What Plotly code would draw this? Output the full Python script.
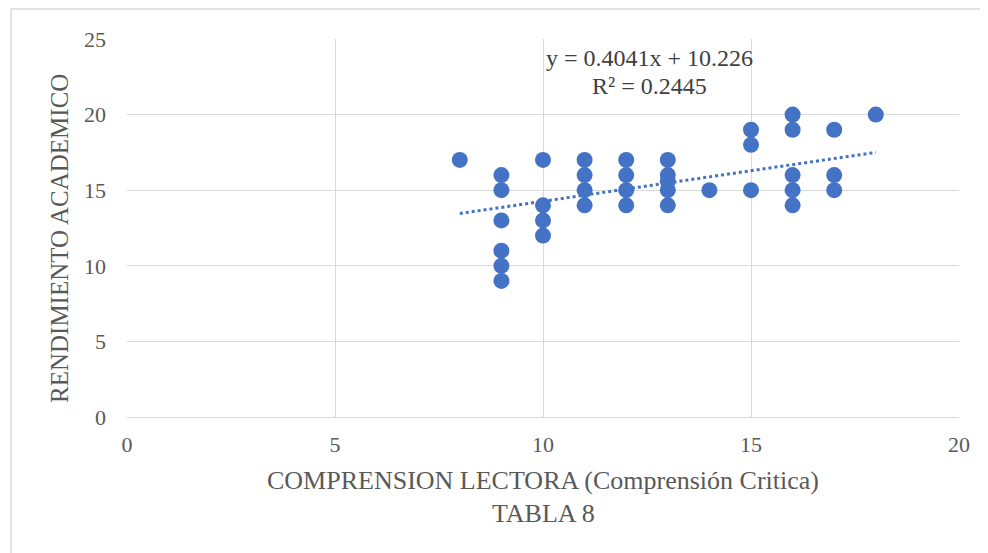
import plotly.graph_objects as go

comprension = [8, 9, 9, 9, 9, 9, 9, 10, 10, 10, 10, 11, 11, 11, 11, 12, 12, 12, 12,
               13, 13, 13, 13, 13, 14, 15, 15, 15, 16, 16, 16, 16, 16, 17, 17, 17, 18]
rendimiento = [17, 16, 15, 13, 11, 10, 9, 17, 14, 13, 12, 17, 16, 15, 14, 17, 16, 15, 14,
               17, 16, 15.6, 15, 14, 15, 19, 18, 15, 20, 19, 16, 15, 14, 19, 16, 15, 20]

slope = 0.4041
intercept = 10.226
trend_x = [8, 18]
trend_y = [slope * v + intercept for v in trend_x]

blue = "#4472C4"
font = "Times New Roman, Liberation Serif, serif"
grey = "#595959"
tickfont = dict(family=font, size=22, color=grey)

L, T, PW, PH = 119, 31, 832, 378
OX, OY = 126, 38  # reference pixel of plot-area origin (top-left)


def px_x(p):
    return (p - OX) / PW


def px_y(p):
    return 1 - (p - OY) / PH


fig = go.Figure()
fig.add_trace(go.Scatter(x=trend_x, y=trend_y, mode="lines",
                         line=dict(color=blue, width=3, dash="dot"), hoverinfo="skip"))
fig.add_trace(go.Scatter(x=comprension, y=rendimiento, mode="markers",
                         marker=dict(color=blue, size=16)))

fig.update_layout(
    width=988, height=553,
    margin=dict(l=L, r=988 - L - PW, t=T, b=553 - T - PH),
    paper_bgcolor="white", plot_bgcolor="white",
    showlegend=False,
    font=dict(family=font, color=grey, size=22),
    xaxis=dict(range=[0, 20], dtick=5, showgrid=True, gridcolor="#d9d9d9", gridwidth=1,
               zeroline=False, showline=True, linecolor="#d9d9d9", mirror=False,
               ticks="", ticklabelstandoff=8, tickfont=tickfont,
               title=dict(text="COMPRENSION LECTORA (Comprensión Critica)",
                          font=dict(family=font, size=26, color=grey), standoff=14)),
    yaxis=dict(range=[0, 25], dtick=5, showgrid=True, gridcolor="#d9d9d9", gridwidth=1,
               zeroline=False, showline=False, ticks="", ticklabelstandoff=20, tickfont=tickfont),
    annotations=[
        dict(xref="paper", yref="paper", x=px_x(58), y=px_y(238),
             text="RENDIMIENTO ACADEMICO", showarrow=False, textangle=-90,
             font=dict(size=25, color=grey, family=font),
             yanchor="middle", xanchor="center"),
        dict(xref="paper", yref="paper", x=px_x(648), y=px_y(57),
             text="y = 0.4041x + 10.226", showarrow=False,
             font=dict(size=24, color="#404040", family=font),
             yanchor="middle", xanchor="center"),
        dict(xref="paper", yref="paper", x=px_x(648), y=px_y(85),
             text="R² = 0.2445", showarrow=False,
             font=dict(size=24, color="#404040", family=font),
             yanchor="middle", xanchor="center"),
        dict(xref="paper", yref="paper", x=px_x(542), y=px_y(513),
             text="TABLA 8", showarrow=False,
             font=dict(size=26, color=grey, family=font),
             yanchor="middle", xanchor="center"),
    ],
    shapes=[dict(type="rect", xref="paper", yref="paper",
                 x0=px_x(10), x1=px_x(1000),
                 y0=-0.6, y1=px_y(8),
                 line=dict(color="#d9d9d9", width=1.5), fillcolor="rgba(0,0,0,0)", layer="below")],
)
fig.write_html("out.html")
